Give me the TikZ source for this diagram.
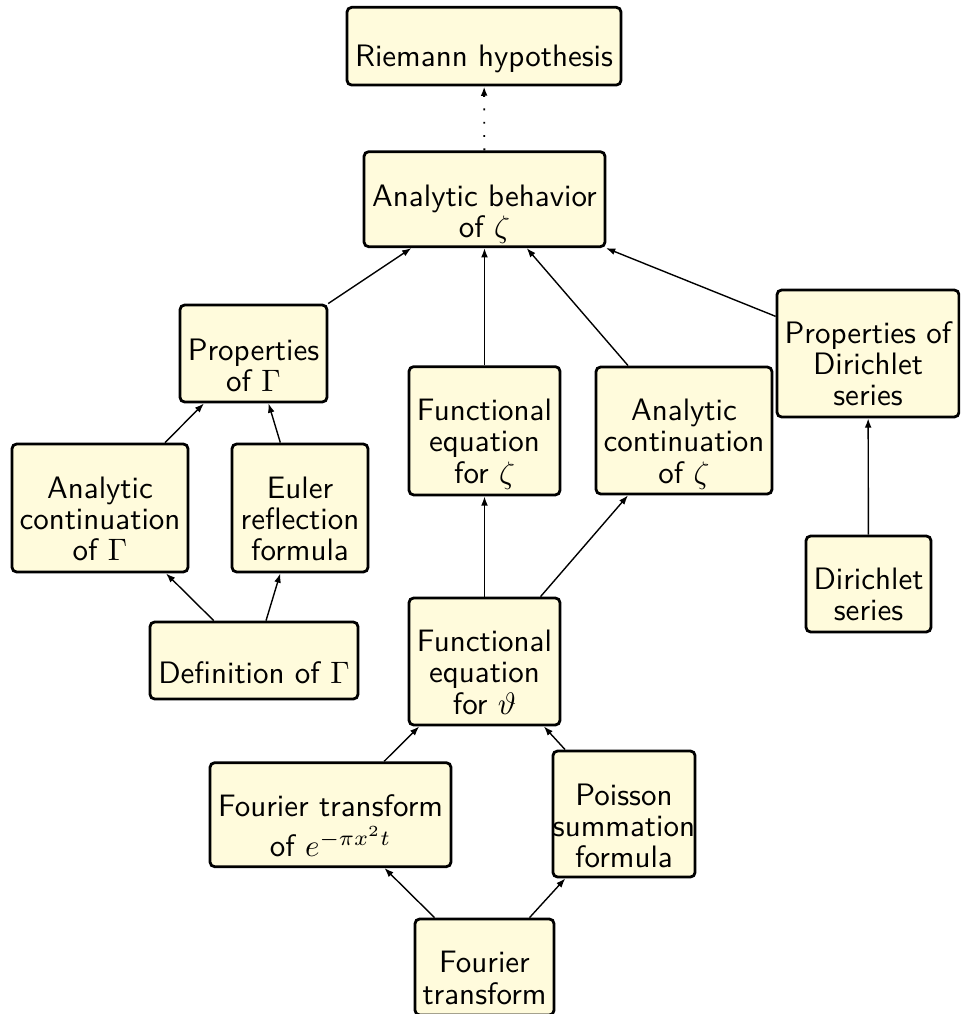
\documentclass[tikz,border=0pt]{standalone}
\usetikzlibrary{arrows.meta}
\definecolor{boxfill}{HTML}{FFFBDC}
\renewcommand{\arraystretch}{0.833}
\newcommand{\px}{0.32258pt}
\newcommand{\tb}[2]{\raisebox{-#1}[0pt][0pt]{\begin{tabular}[t]{@{}c@{}}#2\end{tabular}}}
\tikzset{
  box/.style={draw, line width=0.9pt, rounded corners=1.5pt, fill=boxfill, inner sep=0pt, font=\sffamily},
  arr/.style={-{Latex[length=3pt,width=2.2pt]}, line width=0.45pt},
  dotline/.style={line width=0.6pt, dash pattern=on 0.6pt off 3.7pt}
}
\begin{document}
\begin{tikzpicture}[x=0.32258pt, y=-0.32258pt]
\useasboundingbox (0,0) rectangle (960,1014);
\clip (0,0) rectangle (960,1014);
\node[box, minimum width=274*\px, minimum height=77.7*\px] (rh) at (484,46.2) {\tb{6.6pt}{Riemann hypothesis}};
\node[box, minimum width=241*\px, minimum height=95*\px] (ab) at (484.5,199.2) {\tb{2.4pt}{Analytic behavior\\ of $\zeta$}};
\node[box, minimum width=147*\px, minimum height=97*\px] (pg) at (253.5,353.5) {\tb{2.1pt}{Properties\\ of $\Gamma$}};
\node[box, minimum width=151*\px, minimum height=128.3*\px] (fz) at (484.5,430.8) {\tb{-3.2pt}{Functional\\ equation\\ for $\zeta$}};
\node[box, minimum width=176*\px, minimum height=127*\px] (acz) at (684,430.5) {\tb{-3.1pt}{Analytic\\ continuation\\ of $\zeta$}};
\node[box, minimum width=182*\px, minimum height=127*\px] (pd) at (868,353.5) {\tb{-3.1pt}{Properties of\\ Dirichlet\\ series}};
\node[box, minimum width=176*\px, minimum height=128*\px] (acg) at (100,508) {\tb{-3.2pt}{Analytic\\ continuation\\ of $\Gamma$}};
\node[box, minimum width=136*\px, minimum height=128*\px] (eu) at (300,508) {\tb{-3.2pt}{Euler\\ reflection\\ formula}};
\node[box, minimum width=208*\px, minimum height=77*\px] (dg) at (254,660.5) {\tb{7.3pt}{Definition of $\Gamma$}};
\node[box, minimum width=151*\px, minimum height=127*\px] (ft) at (484.5,661.5) {\tb{-3.1pt}{Functional\\ equation\\ for $\vartheta$}};
\node[box, minimum width=125*\px, minimum height=96*\px] (ds) at (868.5,584) {\tb{1.9pt}{Dirichlet\\ series}};
\node[box, minimum width=241*\px, minimum height=104*\px] (fte) at (330.5,814.7) {\tb{0.65pt}{Fourier transform\\ of $e^{-\pi x^2 t}$}};
\node[box, minimum width=130*\px, minimum height=126*\px] (ps) at (624,814) {\tb{-2.9pt}{Poisson\\ summation\\ formula}};
\node[box, minimum width=139*\px, minimum height=96*\px] (fo) at (484.5,967) {\tb{1.9pt}{Fourier\\ transform}};
\draw[arr, dotline] (ab) -- (rh);
\draw[arr] (pg) -- (ab);
\draw[arr] (fz) -- (ab);
\draw[arr] (acz) -- (ab);
\draw[arr] (pd) -- (ab);
\draw[arr] (acg) -- (pg);
\draw[arr] (eu) -- (pg);
\draw[arr] (dg) -- (acg);
\draw[arr] (dg) -- (eu);
\draw[arr] (ft) -- (fz);
\draw[arr] (ft) -- (acz);
\draw[arr] (ds) -- (pd);
\draw[arr] (fte) -- (ft);
\draw[arr] (ps) -- (ft);
\draw[arr] (fo) -- (fte);
\draw[arr] (fo) -- (ps);
\end{tikzpicture}
\end{document}
